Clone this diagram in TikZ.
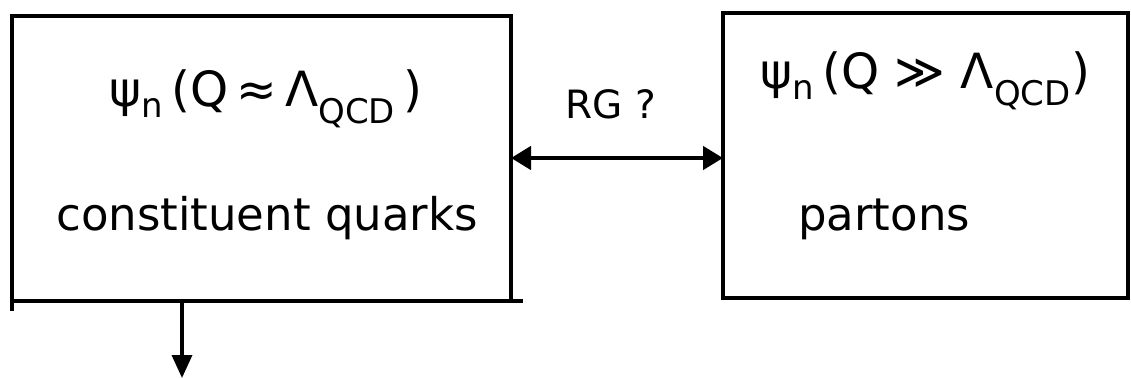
\documentclass[tikz,border=0pt]{standalone}
\usepackage{fontspec}
\setmainfont{DejaVu Sans}
\usetikzlibrary{arrows.meta}
\begin{document}
\begin{tikzpicture}[x=1pt,y=-1pt,
  box/.style={draw, line width=4.5pt, inner sep=0pt, outer sep=0pt, anchor=north west},
  lbl/.style={inner sep=0pt, anchor=base},
  big/.style={font=\fontsize{45}{52}\selectfont},
  title/.style={font=\fontsize{48.5}{56}\selectfont},
  small/.style={font=\fontsize{39}{46}\selectfont},
  conn/.style={line width=4.5pt, {Triangle[length=20pt,width=23pt]}-{Triangle[length=20pt,width=23pt]}},
  down/.style={line width=3.5pt, -{Triangle[length=23pt,width=20pt]}}]
\useasboundingbox (0,0) rectangle (1131,379);
% boxes
\node[box, minimum width=499pt, minimum height=285pt] (L) at (12,16) {};
\node[box, minimum width=405pt, minimum height=285pt] (R) at (723,13) {};
% hand-drawn overshoots of the left box
\draw[line width=4.5pt] (L.south west) -- ++(0,10);
\draw[line width=4.5pt] (L.south east) -- ++(12,0);
% texts
\node[lbl, title] (t1) at (266,107) {ψ\textsubscript{n}\,(Q\,≈\,Λ\textsubscript{QCD}\,)};
\node[lbl, big] (t2) at (267,231) {constituent quarks};
\node[lbl, title] (t3) at (925,89) {ψ\textsubscript{n}\,(Q ≫ Λ\textsubscript{QCD})};
\node[lbl, big, anchor=base west] (t4) at (798,231) {partons};
\node[lbl, small] (rg) at (611,119) {RG ?};
% connectors
\coordinate (ya) at (0,158);
\draw[conn] (L.east |- ya) -- (R.west |- ya);
\coordinate (d) at (182,378);
\draw[down] (d |- L.south) -- (d);
\end{tikzpicture}
\end{document}
